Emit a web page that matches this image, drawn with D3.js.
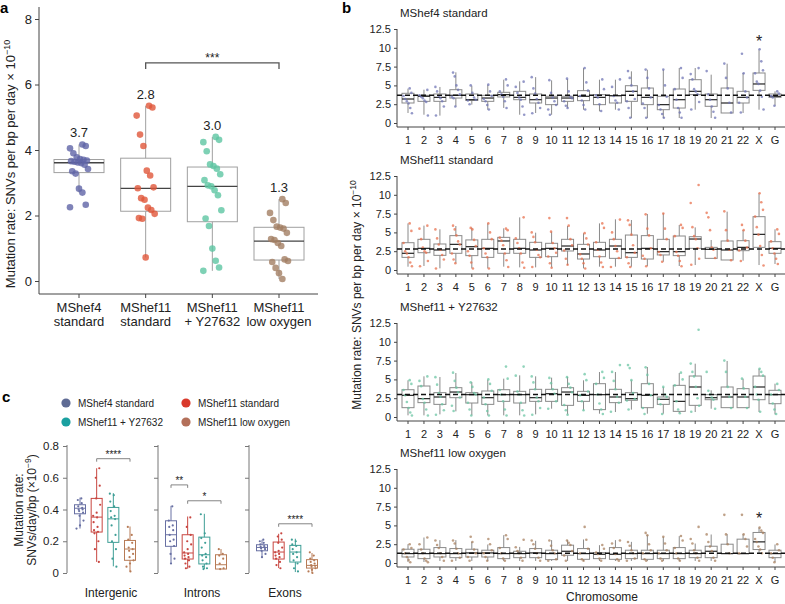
<!DOCTYPE html>
<html>
<head>
<meta charset="utf-8">
<script src="https://cdn.jsdelivr.net/npm/d3@7/dist/d3.min.js"></script>
<style>
  body { margin: 0; background: #fff; }
  svg { font-family: "Liberation Sans", Arial, sans-serif; }
</style>
</head>
<body>
<svg id="chart" width="785" height="604"></svg>
<script>
// ---- data -------------------------------------------------------------
const groups = ["MShef4 standard", "MShef11 standard", "MShef11 + Y27632", "MShef11 low oxygen"]
const groupLines = [["MShef4", "standard"], ["MShef11", "standard"], ["MShef11", "+ Y27632"], ["MShef11", "low oxygen"]]
const rateMeans = [3.7, 2.8, 3.0, 1.3]

// panel a, per group: [whiskerLow, q1, median, q3, whiskerHigh]
const rateBoxes = [
  [2.7, 3.31, 3.61, 3.71, 4.17],
  [0.72, 2.13, 2.83, 3.75, 5.35],
  [0.31, 1.81, 2.89, 3.48, 4.4],
  [0.06, 0.64, 1.22, 1.64, 2.5]
]
const ratePoints = [
  [4.17, 4.12, 4.05, 3.9, 3.78, 3.72, 3.7, 3.68, 3.66, 3.64, 3.62, 3.6, 3.55, 3.42, 3.35, 3.28, 2.82, 2.7, 2.33, 2.25],
  [5.35, 5.3, 5.05, 4.47, 4.12, 3.37, 3.22, 2.86, 2.83, 2.53, 2.48, 2.24, 2.17, 2.05, 1.92, 1.9, 0.72],
  [4.4, 4.31, 4.24, 3.96, 3.56, 3.51, 3.43, 3.26, 3.08, 2.92, 2.89, 2.77, 2.62, 2.16, 1.91, 1.68, 0.99, 0.62, 0.41, 0.31],
  [2.5, 2.38, 2.08, 1.86, 1.66, 1.63, 1.6, 1.47, 1.28, 1.25, 1.16, 1.07, 0.66, 0.61, 0.58, 0.4, 0.24, 0.06]
]

// panel b
const chromosomes = ["1","2","3","4","5","6","7","8","9","10","11","12","13","14","15","16","17","18","19","20","21","22","X","G"]

const chromBoxesMShef4 = [
  [1.33,2.66,3.19,3.95,4.57],[1.1,2.88,3.55,3.68,4.43],[0.98,2.88,3.41,3.86,4.79],[2.2,3.32,3.68,4.43,6.74],
  [2.44,3.0,3.1,3.86,4.96],[1.77,2.88,3.32,3.68,5.1],[2.0,3.46,3.77,4.08,5.76],[1.1,3.1,3.41,4.21,5.54],
  [1.33,2.66,3.1,3.86,6.1],[1.1,2.44,3.32,3.55,5.67],[2.0,2.88,3.32,3.55,5.85],[1.77,2.97,3.55,4.3,7.3],
  [1.55,2.44,3.41,3.77,5.76],[1.77,2.66,3.63,3.63,5.76],[0.66,2.88,4.21,4.96,6.87],[0.66,2.44,3.41,4.65,7.09],
  [0.66,1.77,2.44,3.55,7.09],[0.66,1.99,3.1,4.52,7.31],[1.77,3.77,4.21,5.76,7.31],[0.66,2.22,3.1,3.86,6.43],
  [1.33,1.33,2.66,4.65,7.89],[1.33,2.66,3.41,4.21,6.65],[1.77,4.34,5.19,6.65,9.75],[2.3,3.41,3.55,3.86,4.21]
]
const chromBoxesMShef11 = [
  [0.44,1.68,2.22,3.63,6.2],[0.53,2.3,2.88,4.08,5.9],[0.22,1.95,2.66,3.46,5.41],[0.89,2.22,3.41,4.57,5.85],
  [0.22,1.91,3.1,4.0,5.63],[0.22,1.68,2.88,4.08,6.2],[0.44,2.22,3.86,4.34,5.54],[0.35,2.22,2.88,4.08,7.0],
  [0.35,1.68,2.66,3.68,4.96],[0.35,1.77,2.88,3.55,5.1],[0.66,2.53,3.19,4.08,5.85],[0.22,1.46,2.13,3.41,4.88],
  [0.44,1.77,2.66,3.68,6.2],[0.44,1.55,3.19,4.08,6.74],[0.44,1.68,2.3,4.65,6.65],[0.53,1.46,2.88,4.57,7.45],
  [1.1,2.0,2.44,4.08,7.54],[0.53,1.91,2.44,4.52,5.98],[0.66,2.88,4.12,4.43,5.67],[1.55,1.55,2.75,3.01,3.99],
  [1.33,1.33,2.66,3.86,7.76],[1.24,2.57,3.01,3.9,5.32],[0.66,3.01,4.74,7.09,10.2],[0.8,2.22,2.88,3.77,5.41]
]
const chromBoxesY27632 = [
  [0.22,1.24,2.88,3.63,4.88],[0.22,1.91,2.44,4.12,5.41],[0.35,1.68,2.66,3.24,5.32],[0.75,2.57,3.32,3.9,5.85],
  [0.22,1.86,2.97,3.24,4.65],[0.22,1.68,2.57,3.46,4.96],[0.22,2.08,2.97,3.63,5.1],[0.22,1.86,2.97,3.41,5.54],
  [0.35,2.08,2.57,3.68,5.41],[1.1,2.08,3.1,3.68,5.23],[0.35,1.55,3.32,3.9,5.32],[0.89,2.08,2.88,3.41,4.88],
  [0.44,0.98,2.97,4.43,5.98],[0.66,1.91,2.66,3.68,5.98],[0.98,2.22,2.44,3.24,4.88],[0.44,1.24,2.88,4.43,6.65],
  [0.44,1.68,2.35,2.66,3.99],[0.53,0.75,2.08,4.21,5.85],[0.66,1.55,3.99,5.45,7.09],[1.1,2.3,2.57,2.97,3.55],
  [1.24,1.24,2.66,3.99,7.45],[1.24,1.24,2.66,3.77,5.1],[0.66,2.3,3.99,5.45,6.43],[0.35,1.77,2.97,3.55,4.43]
]
const chromBoxesLowO2 = [
  [0.13,0.8,1.25,1.83,2.5],[0.13,0.58,1.25,1.83,3.39],[0.27,0.8,1.25,2.05,3.04],[0.27,0.71,1.25,1.92,3.04],
  [0.27,0.8,1.34,1.83,2.81],[0.27,0.8,1.34,1.7,2.46],[0.27,0.58,1.25,2.05,3.7],[0.27,0.71,1.25,1.56,2.14],
  [0.27,0.71,1.34,1.92,2.95],[0.27,0.45,1.25,1.7,3.04],[0.27,1.03,1.56,2.37,3.04],[0.27,0.49,1.25,1.92,3.13],
  [0.27,0.58,1.16,1.38,2.37],[0.27,0.49,1.16,2.05,3.04],[0.27,0.58,1.25,1.7,2.81],[0.27,0.49,1.25,1.7,3.7],
  [0.27,0.58,1.25,1.7,3.48],[0.27,0.58,1.25,2.05,3.57],[0.27,0.71,1.25,1.7,2.59],[0.27,0.71,1.56,2.23,3.79],
  [1.25,1.25,1.25,2.5,3.84],[1.25,1.25,1.25,3.17,3.84],[1.25,1.79,2.81,4.06,4.73],[0.13,0.71,1.25,1.7,2.46]
]

const chromPointsMShef4 = [
  [4.6,4.0,3.6,3.2,2.9,2.6,2.0,1.3],[4.4,3.7,3.5,3.3,3.0,2.8,1.0],[4.8,4.2,3.6,3.3,2.9,2.2,1.0],[6.7,6.2,5.0,4.4,3.8,3.5,3.3,2.2],
  [5.0,4.0,3.4,3.1,3.0,2.5],[5.1,4.2,3.6,3.2,2.9,2.4,1.8],[5.8,5.0,4.2,3.8,3.5,2.9,2.0],[5.5,4.8,4.0,3.4,3.1,2.2,1.1],
  [6.1,4.6,3.9,3.2,2.7,2.0,1.3],[5.7,4.0,3.4,2.9,2.4,1.8,1.1],[5.9,4.2,3.5,3.3,2.9,2.3,2.0],[7.3,5.4,4.3,3.6,3.0,2.4,1.8],
  [5.8,4.5,3.7,3.4,2.5,1.6],[5.8,4.8,3.6,3.0,2.7,1.8],[6.9,6.0,5.0,4.2,3.2,2.9,2.0,0.7],[7.1,6.0,4.6,3.4,2.6,2.0,0.7],
  [7.1,5.0,3.5,2.4,1.8,1.2,0.7],[7.3,6.0,4.5,3.1,2.0,1.4,0.7],[7.3,6.5,5.8,4.5,4.2,3.8,2.8,1.8],[6.9,3.8,3.1,2.2,1.5,0.7],
  [7.9,6.0,4.6,2.7,1.4],[9.2,6.6,4.2,3.4,2.7,1.4],[9.8,8.2,7.0,6.6,5.5,5.2,4.3,3.5,1.8],[4.2,3.9,3.6,3.4,2.3]
]
const chromPointsMShef11 = [
  [6.2,5.2,3.6,2.5,2.2,1.7,1.0,0.5],[5.9,5.5,4.1,3.0,2.5,2.3,1.2,0.5],[5.4,4.2,3.4,2.7,2.0,1.4,0.2],[5.9,5.4,4.6,3.8,3.4,2.2,1.4,0.9],
  [5.6,5.4,4.0,3.2,2.5,1.9,1.0,0.2],[6.2,5.0,4.1,2.9,2.2,1.7,0.2],[5.5,5.3,4.3,3.9,3.3,2.2,1.3,0.4],[7.0,4.2,3.6,2.9,2.2,1.0,0.3],
  [5.0,4.4,3.7,2.7,2.0,1.7,0.4],[6.9,5.1,3.6,2.9,2.3,1.8,0.9,0.3],[6.9,5.9,4.1,3.3,2.6,1.5,0.7],[4.9,4.2,3.4,2.1,1.5,0.9,0.2],
  [6.2,5.6,3.7,2.7,1.8,1.0,0.4],[6.7,5.0,4.1,3.2,2.5,1.6,0.4],[6.6,6.0,4.7,3.3,2.3,1.7,0.9,0.4],[7.4,5.5,4.6,2.9,1.9,1.5,0.5],
  [7.5,5.5,4.1,2.4,2.0,1.1],[6.0,5.6,4.5,2.4,1.9,1.2,0.5],[11.3,8.9,5.7,4.5,4.1,2.9,1.5,0.7],[7.6,7.0,5.3,3.0,2.7,1.6],
  [7.8,5.3,3.9,2.7,1.3],[6.0,5.3,3.9,3.0,2.6,1.2],[10.2,9.0,8.0,7.1,5.7,4.7,3.2,2.0,0.6],[5.4,4.8,3.8,2.9,2.2,1.5,0.8]
]
const chromPointsY27632 = [
  [4.9,4.4,3.6,2.9,2.0,1.2,0.6,0.2],[5.4,4.8,4.1,2.4,1.9,1.0,0.2],[5.3,4.3,3.2,2.7,1.7,0.9,0.3],[5.9,4.8,3.9,3.3,2.6,1.5,0.8],
  [4.6,4.0,3.2,3.0,1.9,1.0,0.2],[5.0,4.4,3.5,2.6,1.7,0.8,0.2],[6.7,5.1,3.6,3.0,2.1,1.0,0.2],[6.7,5.5,3.4,3.0,1.9,0.9,0.2],
  [5.4,4.6,3.7,2.6,2.1,1.2,0.3],[5.2,4.5,3.7,3.1,2.1,1.1],[5.3,4.4,3.9,3.3,1.6,0.9,0.3],[5.7,4.9,3.4,2.9,2.1,0.9],
  [6.0,5.2,4.4,3.0,1.8,1.0,0.4],[6.9,6.0,4.8,3.7,2.7,1.9,0.7],[6.9,6.5,4.9,3.2,2.4,2.2,1.0],[6.6,5.6,4.4,2.9,1.2,0.4],
  [4.0,3.0,2.7,2.4,1.7,0.4],[5.9,5.0,4.2,2.1,1.0,0.5],[11.6,7.1,6.0,5.4,4.0,2.5,1.5,0.7],[6.0,3.5,3.0,2.6,2.3,1.1],
  [7.5,6.0,4.0,2.7,1.2],[5.1,3.8,2.7,1.2],[6.4,6.0,5.5,4.0,3.0,2.3,0.7],[4.4,3.6,3.0,1.8,1.0,0.4]
]
const chromPointsLowO2 = [
  [2.5,2.0,1.8,1.3,0.8,0.4,0.1],[3.4,2.5,1.8,1.3,0.6,0.3,0.1],[3.0,2.4,2.0,1.3,0.8,0.3],[3.0,2.6,1.9,1.3,0.7,0.3],
  [3.5,2.8,1.8,1.3,0.8,0.3],[3.2,2.5,1.7,1.3,0.8,0.3],[3.7,3.2,2.0,1.3,0.6,0.3],[3.1,2.1,1.6,1.3,0.7,0.3],
  [3.0,2.5,1.9,1.3,0.7,0.3],[3.0,2.3,1.7,1.3,0.5,0.3],[3.0,2.7,2.4,1.6,1.0,0.3],[4.8,3.1,1.9,1.3,0.5,0.3],
  [2.4,1.9,1.4,1.2,0.6,0.3],[3.0,2.6,2.0,1.2,0.5,0.3],[2.8,2.3,1.7,1.3,0.6,0.3],[4.0,3.7,2.5,1.7,1.3,0.5,0.3],
  [3.5,2.6,1.7,1.3,0.6,0.3],[3.6,3.0,2.0,1.3,0.6,0.3],[4.8,3.2,2.6,1.7,1.3,0.7,0.3],[3.8,2.8,2.2,1.6,0.7,0.3],
  [6.4,3.8,2.5,1.3],[6.4,3.8,3.2,2.2,1.3],[4.7,4.3,4.0,3.2,2.8,2.2,1.8,1.3],[2.5,1.7,1.3,0.7,0.1]
]
const chromStars = [["MShef4 standard", "X", 11.2], ["MShef11 low oxygen", "X", 6.2]]

// panel c
const regions = ["Intergenic", "Introns", "Exons"]
const regionBoxes = [
  [[0.28,0.373,0.408,0.43,0.475],[0.07,0.258,0.352,0.47,0.66],[0.042,0.193,0.341,0.413,0.503],[0.01,0.08,0.151,0.205,0.293]],
  [[0.057,0.168,0.241,0.329,0.423],[0.027,0.088,0.126,0.241,0.356],[0.025,0.057,0.115,0.226,0.373],[0.025,0.025,0.052,0.115,0.151]],
  [[0.098,0.14,0.161,0.178,0.209],[0.031,0.088,0.132,0.195,0.247],[0.006,0.069,0.132,0.174,0.216],[0.0,0.031,0.048,0.084,0.126]]
]
const regionPoints = [
  [[0.47,0.46,0.44,0.42,0.41,0.40,0.40,0.39,0.38,0.36,0.33,0.30,0.28],
   [0.66,0.60,0.55,0.47,0.43,0.38,0.36,0.35,0.32,0.29,0.27,0.26,0.25,0.20,0.15,0.07],
   [0.50,0.49,0.45,0.42,0.39,0.36,0.35,0.34,0.30,0.24,0.20,0.15,0.09,0.04],
   [0.29,0.24,0.21,0.19,0.16,0.15,0.14,0.12,0.10,0.08,0.06,0.04,0.01]],
  [[0.42,0.33,0.30,0.29,0.27,0.24,0.21,0.20,0.17,0.12,0.09,0.06],
   [0.35,0.29,0.24,0.20,0.18,0.15,0.13,0.12,0.11,0.10,0.09,0.08,0.06,0.04,0.03],
   [0.37,0.25,0.22,0.19,0.16,0.12,0.11,0.10,0.08,0.06,0.04,0.03,0.025],
   [0.15,0.12,0.11,0.09,0.06,0.03,0.025]],
  [[0.21,0.20,0.19,0.18,0.17,0.165,0.16,0.155,0.15,0.14,0.12,0.10],
   [0.25,0.23,0.21,0.19,0.16,0.14,0.13,0.12,0.11,0.10,0.09,0.07,0.05,0.03],
   [0.21,0.20,0.18,0.17,0.15,0.13,0.12,0.10,0.08,0.06,0.03,0.01],
   [0.13,0.11,0.09,0.08,0.07,0.06,0.05,0.045,0.04,0.03,0.02,0.01,0.0]]
]
// [region, fromGroup, toGroup, level, label]
const regionSig = [
  ["Intergenic", 1, 3, 0.72, "****"],
  ["Introns", 0, 1, 0.555, "**"],
  ["Introns", 1, 3, 0.455, "*"],
  ["Exons", 1, 3, 0.31, "****"]
]

// ---- style --------------------------------------------------------------
const colorsA = ["#5f64a6", "#e0563a", "#5ec6a2", "#a27e63"]
const colorsB = ["#7076b5", "#e8714f", "#6cc6a4", "#a98260"]
const colorsC = ["#6870a3", "#c84640", "#3e9e96", "#b77b56"]
const colorsLegend = ["#5f6b94", "#d9392b", "#1aa0a0", "#b3705a"]
const ink = "#222"

const svg = d3.select("#chart")
const jitter = i => ((i * 37 + 11) % 17) / 16 - 0.5

function drawBox(g, x, w, s, y, stroke, medStroke, medWidth) {
  const [lo, q1, med, q3, hi] = s
  g.append("line").attr("x1", x).attr("x2", x).attr("y1", y(hi)).attr("y2", y(q3)).attr("stroke", stroke)
  g.append("line").attr("x1", x).attr("x2", x).attr("y1", y(q1)).attr("y2", y(lo)).attr("stroke", stroke)
  g.append("rect").attr("x", x - w / 2).attr("y", y(q3)).attr("width", w)
    .attr("height", Math.max(0.5, y(q1) - y(q3))).attr("fill", "none").attr("stroke", stroke)
  g.append("line").attr("x1", x - w / 2).attr("x2", x + w / 2).attr("y1", y(med)).attr("y2", y(med))
    .attr("stroke", medStroke).attr("stroke-width", medWidth)
}

function panelLetter(t, x, y) {
  svg.append("text").attr("x", x).attr("y", y).attr("font-size", 15).attr("font-weight", "bold").text(t)
}

// ---- panel a ------------------------------------------------------------
{
  const g = svg.append("g")
  const x = d3.scalePoint().domain(groups).range([79, 279])
  const y = d3.scaleLinear().domain([0, 8]).range([281, 19])
  const left = 39, bottom = 294

  const yAxis = g.append("g").attr("transform", `translate(${left},0)`)
    .call(d3.axisLeft(y).tickValues([0, 2, 4, 6, 8]).tickSize(4).tickPadding(3))
  yAxis.select(".domain").remove()
  yAxis.selectAll("text").attr("font-size", 13).attr("fill", ink).attr("font-family", null)
  yAxis.selectAll("line").attr("stroke", "#444")
  g.append("line").attr("x1", left).attr("x2", left).attr("y1", 7).attr("y2", bottom).attr("stroke", "#444")
  g.append("line").attr("x1", left).attr("x2", 318).attr("y1", bottom).attr("y2", bottom).attr("stroke", "#444")

  groups.forEach((grp, i) => {
    const cx = x(grp)
    g.append("line").attr("x1", cx).attr("x2", cx).attr("y1", bottom).attr("y2", bottom + 4).attr("stroke", "#444")
    const t = g.append("text").attr("text-anchor", "middle").attr("font-size", 13).attr("fill", ink)
    groupLines[i].forEach((line, j) => t.append("tspan").attr("x", cx).attr("y", 312 + j * 14).text(line))

    drawBox(g, cx, 50, rateBoxes[i], y, "#a0a0a0", "#444", 1.3)
    g.selectAll(null).data(ratePoints[i]).join("circle")
      .attr("cx", (d, k) => cx + jitter(k) * 18)
      .attr("cy", d => y(d))
      .attr("r", 3.3)
      .attr("fill", colorsA[i])
      .attr("fill-opacity", 0.8)
    g.append("text").attr("x", cx).attr("y", y(rateBoxes[i][4]) - 7)
      .attr("text-anchor", "middle").attr("font-size", 13).attr("fill", ink)
      .text(d3.format(".1f")(rateMeans[i]))
  })

  // significance bracket
  const b0 = x(groups[1]), b1 = x(groups[3])
  g.append("path").attr("d", `M${b0},${y(6.47)}V${y(6.66)}H${b1}V${y(6.47)}`)
    .attr("fill", "none").attr("stroke", "#555").attr("stroke-width", 1.3)
  g.append("text").attr("x", (b0 + b1) / 2).attr("y", y(6.66) - 1).attr("text-anchor", "middle")
    .attr("font-size", 12).attr("fill", ink).text("***")

  const yl = g.append("text").attr("transform", "translate(15,164) rotate(-90)")
    .attr("text-anchor", "middle").attr("font-size", 13).attr("fill", ink)
  yl.append("tspan").text("Mutation rate: SNVs per bp per day × 10")
  yl.append("tspan").attr("font-size", 9).attr("dy", -5).text("−10")
  panelLetter("a", 0, 13)
}

// ---- panel b ------------------------------------------------------------
{
  const g = svg.append("g")
  const x = d3.scalePoint().domain(chromosomes).range([408, 775])
  const offsets = [0, 147, 294, 440]
  const boxes = [chromBoxesMShef4, chromBoxesMShef11, chromBoxesY27632, chromBoxesLowO2]
  const points = [chromPointsMShef4, chromPointsMShef11, chromPointsY27632, chromPointsLowO2]
  const left = 397

  groups.forEach((grp, k) => {
    const off = offsets[k]
    const y = d3.scaleLinear().domain([0, 12.5]).range([123 + off, 29 + off])
    const bottom = 127 + off
    const sub = g.append("g")

    sub.append("text").attr("x", 400).attr("y", y(0) - 106).attr("font-size", 11.5).attr("fill", ink).text(grp)

    const yAxis = sub.append("g").attr("transform", `translate(${left},0)`)
      .call(d3.axisLeft(y).tickValues([0, 2.5, 5, 7.5, 10, 12.5]).tickFormat(d => String(d)).tickSize(3).tickPadding(3))
    yAxis.select(".domain").remove()
    yAxis.selectAll("text").attr("font-size", 11).attr("fill", ink).attr("font-family", null)
    yAxis.selectAll("line").attr("stroke", "#444")
    sub.append("line").attr("x1", left).attr("x2", left).attr("y1", y(12.5)).attr("y2", bottom).attr("stroke", "#444")
    sub.append("line").attr("x1", left).attr("x2", 785).attr("y1", bottom).attr("y2", bottom).attr("stroke", "#444")

    chromosomes.forEach((c, i) => {
      const cx = x(c)
      sub.append("line").attr("x1", cx).attr("x2", cx).attr("y1", bottom).attr("y2", bottom + 3).attr("stroke", "#444")
      sub.append("text").attr("x", cx).attr("y", y(0) + 21).attr("text-anchor", "middle")
        .attr("font-size", 11).attr("fill", ink).text(c)
      drawBox(sub, cx, 12, boxes[k][i], y, "#8a8a8a", "#222", 1.2)
      sub.selectAll(null).data(points[k][i]).join("circle")
        .attr("cx", (d, j) => cx + jitter(j + i) * 9)
        .attr("cy", d => y(d))
        .attr("r", 1.3)
        .attr("fill", colorsB[k])
        .attr("fill-opacity", 0.75)
    })

    sub.append("line").attr("x1", left).attr("x2", 785).attr("y1", y(rateMeans[k])).attr("y2", y(rateMeans[k]))
      .attr("stroke", "#111").attr("stroke-width", 1.4).attr("stroke-dasharray", "5,3")

    chromStars.filter(s => s[0] === grp).forEach(s => {
      sub.append("text").attr("x", x(s[1])).attr("y", y(s[2]) + 8).attr("text-anchor", "middle")
        .attr("font-size", 16).attr("fill", ink).text("*")
    })
  })

  g.append("text").attr("x", 602).attr("y", 601).attr("text-anchor", "middle")
    .attr("font-size", 12).attr("fill", ink).text("Chromosome")

  const yl = g.append("text").attr("transform", "translate(361,295) rotate(-90)")
    .attr("text-anchor", "middle").attr("font-size", 12).attr("fill", ink)
  yl.append("tspan").text("Mutation rate: SNVs per bp per day × 10")
  yl.append("tspan").attr("font-size", 8.5).attr("dy", -5).text("−10")
  panelLetter("b", 342, 13)
}

// ---- panel c ------------------------------------------------------------
{
  const g = svg.append("g")
  const facet = d3.scalePoint().domain(regions).range([67, 249])
  const inner = d3.scalePoint().domain(d3.range(groups.length)).range([13, 63])
  const y = d3.scaleLinear().domain([0, 0.8]).range([573, 446])

  // legend
  groups.forEach((grp, i) => {
    const lx = i % 2 === 0 ? 66 : 186
    const ly = i < 2 ? 403 : 422
    g.append("circle").attr("cx", lx).attr("cy", ly).attr("r", 4.6).attr("fill", colorsLegend[i])
    g.append("text").attr("x", lx + 12).attr("y", ly + 3.6).attr("font-size", 10).attr("fill", ink).text(grp)
  })

  regions.forEach((reg, r) => {
    const ax = facet(reg)
    const axis = g.append("g").attr("transform", `translate(${ax},0)`)
      .call(d3.axisLeft(y).tickValues([0, 0.2, 0.4, 0.6, 0.8]).tickFormat(r === 0 ? d3.format("~g") : "").tickSize(4).tickPadding(4))
    axis.select(".domain").remove()
    axis.selectAll("text").attr("font-size", 11.5).attr("fill", ink).attr("font-family", null)
    axis.selectAll("line").attr("stroke", "#777")
    g.append("line").attr("x1", ax).attr("x2", ax).attr("y1", 445).attr("y2", 573).attr("stroke", "#777")

    g.append("text").attr("x", ax + (r === 2 ? 36 : 44)).attr("y", 597).attr("text-anchor", "middle")
      .attr("font-size", 12).attr("fill", ink).text(reg)

    groups.forEach((grp, i) => {
      const cx = ax + inner(i)
      drawBox(g, cx, 11, regionBoxes[r][i], y, colorsC[i], colorsC[i], 1)
      g.selectAll(null).data(regionPoints[r][i]).join("circle")
        .attr("cx", (d, j) => cx + jitter(j * 3 + i) * 7)
        .attr("cy", d => y(d))
        .attr("r", 1.1)
        .attr("fill", colorsC[i])
    })
  })

  regionSig.forEach(([reg, a, b, level, label]) => {
    const x0 = facet(reg) + inner(a), x1 = facet(reg) + inner(b)
    const yy = y(level)
    g.append("path").attr("d", `M${x0},${yy + 3}V${yy}H${x1}V${yy + 3}`)
      .attr("fill", "none").attr("stroke", "#777").attr("stroke-width", 0.9)
    g.append("text").attr("x", (x0 + x1) / 2).attr("y", yy - 1).attr("text-anchor", "middle")
      .attr("font-size", 10).attr("fill", ink).text(label)
  })

  g.append("text").attr("transform", "translate(23,510) rotate(-90)").attr("text-anchor", "middle")
    .attr("font-size", 12).attr("fill", ink).text("Mutation rate:")
  const l2 = g.append("text").attr("transform", "translate(36,510) rotate(-90)").attr("text-anchor", "middle")
    .attr("font-size", 12).attr("fill", ink)
  l2.append("tspan").text("SNVs/day/bp (×10")
  l2.append("tspan").attr("font-size", 8.5).attr("dy", -5).text("−9")
  l2.append("tspan").attr("dy", 5).text(")")
  panelLetter("c", 2, 402)
}
</script>
</body>
</html>
